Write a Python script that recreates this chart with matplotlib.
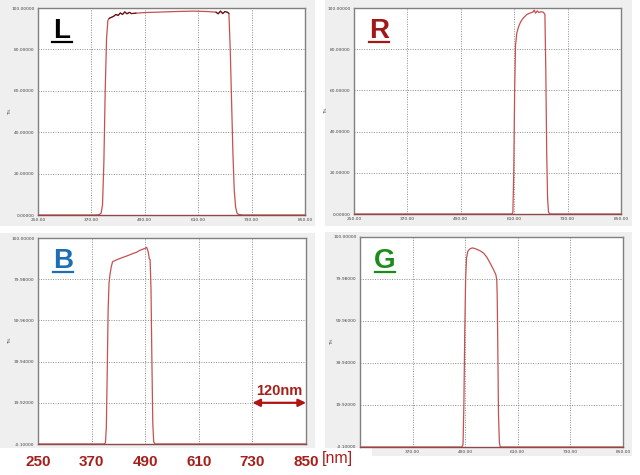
import numpy as np
import matplotlib.pyplot as plt
from matplotlib.patches import Rectangle
from matplotlib.lines import Line2D

# Transmission spectra (wavelength nm, T %)
wl_L = [250, 380, 388, 392, 395, 398, 401, 404, 407, 410, 420, 425, 430, 435, 440, 445,
        450, 455, 460, 470, 490, 520, 560, 600, 630, 650, 655, 660, 665, 670, 675, 679,
        682, 685, 688, 691, 694, 697, 700, 710, 850]
T_L = [0, 0, 0.2, 1, 5, 25, 60, 85, 94, 95, 96, 96.9, 96.4, 97.6, 96.9, 98.1,
       97.2, 97.9, 97.3, 97.5, 97.8, 98, 98.3, 98.5, 98.3, 98, 97.2, 98.5, 97.3, 98.3, 98, 97.4,
       80, 55, 30, 12, 4, 1, 0.3, 0, 0]

wl_R = [250, 604, 607, 609, 611, 613, 616, 620, 625, 630, 638, 645, 652, 655, 658, 662,
        665, 670, 675, 679, 681, 683, 685, 687, 690, 850]
T_R = [0, 0, 0.5, 20, 60, 82, 88, 91, 93.5, 95, 96.8, 97.5, 98, 99, 97.5, 98.6,
       97.8, 98.2, 98, 97, 70, 30, 8, 1, 0, 0]

wl_B = [250, 398, 401, 403, 405, 407, 409, 411, 414, 417, 425, 433, 440, 448, 455, 463,
        470, 478, 485, 490, 493, 495, 497, 499, 501, 503, 505, 507, 509, 512, 850]
T_B = [-0.1, -0.1, 0.5, 8, 35, 65, 78, 82, 86, 88.5, 89.3, 90, 90.6, 91.2, 91.8, 92.5,
       93, 94, 94.6, 95, 95.5, 94.5, 93, 90, 89.5, 75, 40, 10, 1, -0.1, -0.1]

wl_G = [250, 482, 485, 487, 489, 491, 493, 496, 500, 506, 512, 518, 525, 532, 539, 547,
        554, 560, 562, 563, 564, 566, 568, 570, 850]
T_G = [-0.1, -0.1, 1, 20, 55, 80, 90, 93.2, 94.2, 94.8, 94.5, 94, 93.3, 92.3, 90.5, 87.5,
       84.7, 82, 79.5, 72, 55, 15, 2, -0.1, -0.1]

x_ticks = [250, 370, 490, 610, 730, 850]
y_ticks_a = [0, 20, 40, 60, 80, 100]
y_ticks_b = [-0.1, 19.92, 39.94, 59.96, 79.98, 100]

W, H = 640, 475
fig = plt.figure(figsize=(W / 100, H / 100), dpi=100)
fig.patch.set_facecolor('white')

red_txt = '#a61f1a'
curve = '#c85050'


def bg(x0, y0, x1, y1):
    fig.add_artist(Rectangle((x0 / W, 1 - y1 / H), (x1 - x0) / W, (y1 - y0) / H,
                             transform=fig.transFigure, facecolor='#efefef',
                             edgecolor='none', zorder=0))


def panel(box, wl, T, yticks, ylim, letter, lcolor, lpos):
    x0, y0, x1, y1 = box
    ax = fig.add_axes([x0 / W, 1 - y1 / H, (x1 - x0) / W, (y1 - y0) / H])
    ax.plot(wl, T, color=curve, lw=0.9)
    ax.set_xlim(250, 850)
    ax.set_ylim(*ylim)
    ax.set_xticks(x_ticks, labels=['%.2f' % v for v in x_ticks])
    ax.set_yticks(yticks, labels=['%.5f' % v for v in yticks])
    ax.tick_params(length=0, labelsize=3.2, labelcolor='#444444', pad=2.5)
    ax.grid(True, color='#8c8c8c', ls=(0, (1, 1.5)), lw=0.7)
    for s in ax.spines.values():
        s.set_color('#808080')
        s.set_linewidth(1.0)
    ax.spines['bottom'].set_color('#8a4a4a')
    # big channel letter with underline
    cx, cy = lpos
    fig.text(cx / W, 1 - cy / H, letter, color=lcolor, fontsize=20, fontweight='bold',
             ha='center', va='baseline', family='Liberation Sans')
    fig.add_artist(Line2D([(cx - 10) / W, (cx + 10) / W], [1 - (cy + 4) / H] * 2,
                          color=lcolor, lw=1.6, transform=fig.transFigure))
    fig.text((x0 - 28) / W, 1 - ((y0 + y1) / 2) / H, 'T%', rotation=90, fontsize=3,
             color='#444444', ha='center', va='center')
    return ax


bg(0, 0, 315, 226)
bg(325, 0, 632, 226)
bg(0, 233, 315, 448)
bg(325, 232, 632, 448)
bg(372, 448, 632, 456)

ax_L = panel((38, 8, 305, 215), wl_L, T_L, y_ticks_a, (0, 100), 'L', 'black', (62, 38))
ax_R = panel((354, 8, 621, 214), wl_R, T_R, y_ticks_a, (0, 100), 'R', '#a01818', (379, 38))
ax_B = panel((38, 238, 306, 444), wl_B, T_B, y_ticks_b, (-0.1, 100), 'B', '#1c6fb2', (63, 268))
ax_G = panel((360, 237, 623, 447), wl_G, T_G, y_ticks_b, (-0.1, 100), 'G', '#1a8c1a', (385, 268))

# darker noisy top of the L trace
ax_L.plot(wl_L[9:20], T_L[9:20], color='#5a1414', lw=0.8)
ax_L.plot(wl_L[25:32], T_L[25:32], color='#5a1414', lw=0.8)

# G: first x label hidden behind the [nm] unit
ax_G.set_xticks(x_ticks, labels=[''] + ['%.2f' % v for v in x_ticks[1:]])

# B: large red wavelength labels
ax_B.set_xticks(x_ticks, labels=[str(v) for v in x_ticks])
ax_B.tick_params(axis='x', labelsize=11, labelcolor=red_txt, pad=8)
for t in ax_B.get_xticklabels():
    t.set_fontweight('bold')
    t.set_family('Liberation Sans')

fig.text(337 / W, 1 - 458 / H, '[nm]', color=red_txt, fontsize=11.5, ha='center',
         va='center', family='Liberation Sans')

# 120 nm span arrow
ax_B.annotate('', xy=(850, 19.92), xytext=(730, 19.92),
              arrowprops=dict(arrowstyle='<|-|>', color='#b01414', lw=1.6,
                              mutation_scale=11, shrinkA=0, shrinkB=0),
              annotation_clip=False)
ax_B.text(790, 25.8, '120nm', color=red_txt, fontsize=10.5, fontweight='bold',
          ha='center', va='center', family='Liberation Sans')

fig.savefig('out.png', dpi=100)
